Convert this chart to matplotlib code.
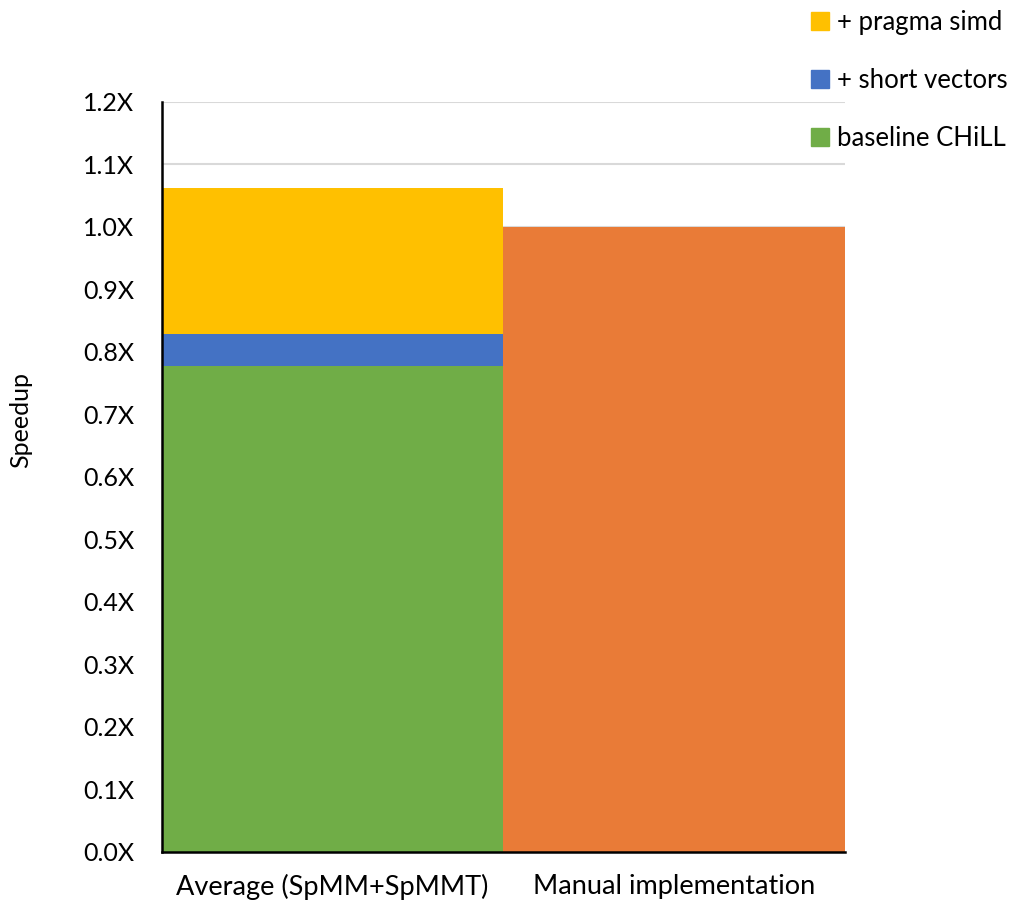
import matplotlib
matplotlib.use("Agg")
import matplotlib.pyplot as plt
from matplotlib.patches import Patch

categories = ["Average (SpMM+SpMMT)", "Manual implementation"]
baseline = [0.778, 0.0]
short_vec = [0.051, 0.0]
pragma = [0.233, 0.0]
manual = [0.0, 1.0]
yticks = [0.0, 0.1, 0.2, 0.3, 0.4, 0.5, 0.6, 0.7, 0.8, 0.9, 1.0, 1.1, 1.2]

plt.rcParams['font.family'] = ['Lato', 'DejaVu Sans']

fig = plt.figure(figsize=(10.18, 9.05), dpi=100)
ax = fig.add_axes([0.159, 0.0586, 0.671, 0.8287])

x = list(range(len(categories)))
c_green, c_blue, c_yellow, c_orange = "#70AD47", "#4472C4", "#FFC000", "#E97B37"
b1 = [b for b in baseline]
b2 = [b + s for b, s in zip(baseline, short_vec)]
ax.bar(x, baseline, width=1.0, color=c_green, zorder=2)
ax.bar(x, short_vec, width=1.0, bottom=b1, color=c_blue, zorder=2)
ax.bar(x, pragma, width=1.0, bottom=b2, color=c_yellow, zorder=2)
ax.bar(x, manual, width=1.0, color=c_orange, zorder=2)

ax.set_xlim(-0.5, 1.5)
ax.set_ylim(0, 1.2)
ax.set_yticks(yticks)
ax.set_yticklabels([f"{v:.1f}X" for v in yticks], fontsize=18)
ax.set_xticks(x)
ax.set_xticklabels(categories, fontsize=19.5)
ax.tick_params(axis='y', length=0, pad=20)
ax.tick_params(axis='x', length=0, pad=16)
ax.yaxis.grid(True, color="#D9D9D9", linewidth=1.5, zorder=0)
ax.set_axisbelow(True)
for s in ["top", "right"]:
    ax.spines[s].set_visible(False)
ax.spines["left"].set_linewidth(1.8)
ax.spines["bottom"].set_linewidth(1.8)
ax.set_ylabel("Speedup", fontsize=18)
ax.yaxis.set_label_coords(-0.19, 0.576)

handles = [Patch(color=c_yellow, label="+ pragma simd"),
           Patch(color=c_blue, label="+ short vectors"),
           Patch(color=c_green, label="baseline CHiLL")]
fig.legend(handles=handles, loc="upper left", bbox_to_anchor=(0.774, 1.015),
           frameon=False, fontsize=18.5, handlelength=0.7, handleheight=0.7,
           handletextpad=0.3, labelspacing=1.3)

fig.savefig("out.png", dpi=100)
